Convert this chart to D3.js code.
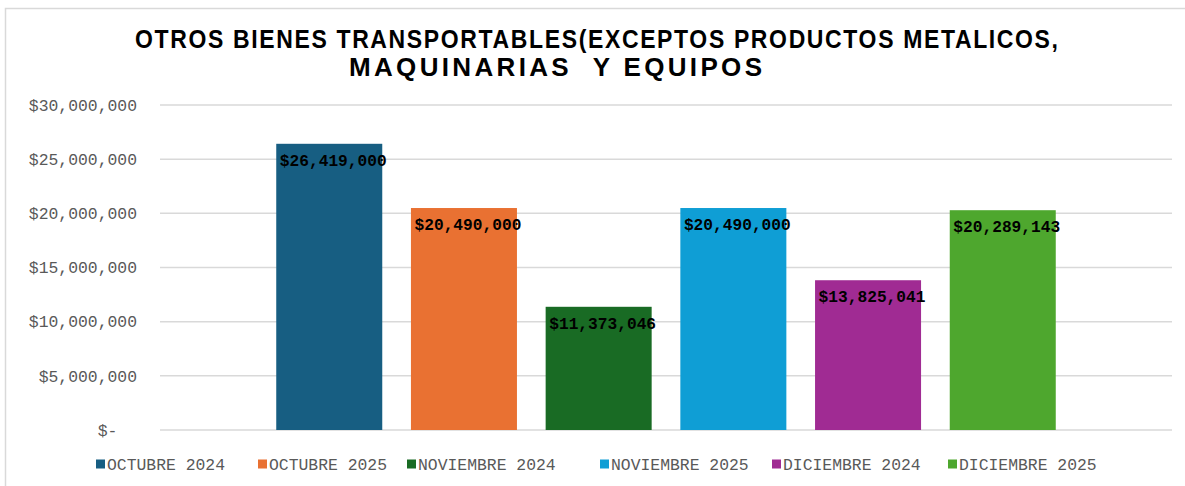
<!DOCTYPE html>
<html>
<head>
<meta charset="utf-8">
<script src="https://cdn.jsdelivr.net/npm/d3@7"></script>
<style>
  body { margin: 0; background: #fff; }
  text { white-space: pre; }
</style>
</head>
<body>
<script>
const titleLines = ['OTROS BIENES TRANSPORTABLES(EXCEPTOS PRODUCTOS METALICOS,', 'MAQUINARIAS  Y EQUIPOS'];
const series = ['OCTUBRE 2024', 'OCTUBRE 2025', 'NOVIEMBRE 2024', 'NOVIEMBRE 2025', 'DICIEMBRE 2024', 'DICIEMBRE 2025'];
const values = [26419000, 20490000, 11373046, 20490000, 13825041, 20289143];
const colors = ['#175E82', '#E97132', '#196B24', '#0F9ED5', '#A02B93', '#4EA72E'];
const yTicks = [0, 5000000, 10000000, 15000000, 20000000, 25000000, 30000000];
// legend x positions (marker left edge)
const legendX = [96, 258, 407, 600, 772, 948];

const W = 1185, H = 486;
const plot = { left: 160, right: 1172, top: 105, bottom: 430 };
const mono = 'Liberation Mono, Courier New, monospace';

const svg = d3.select('body').append('svg')
  .attr('width', W).attr('height', H);

// chart frame (only top/left edges are visible in the crop)
svg.append('rect')
  .attr('x', 5.5).attr('y', 8.5)
  .attr('width', W + 10).attr('height', H + 10)
  .attr('fill', '#fff').attr('stroke', '#d9d9d9').attr('stroke-width', 1.5);

// title, spread to the widths in the picture
const titlePos = [{ x: 135, y: 48, len: 923, sx: 0.92 }, { x: 349, y: 76, len: 413, sx: 1.04 }];
svg.selectAll('.title').data(titleLines).join('text')
  .attr('class', 'title')
  .attr('transform', (d, i) => `translate(${titlePos[i].x},${titlePos[i].y}) scale(${titlePos[i].sx},1)`)
  .attr('textLength', (d, i) => titlePos[i].len / titlePos[i].sx)
  .attr('lengthAdjust', 'spacing')
  .attr('font-family', 'Liberation Sans, Arial, sans-serif')
  .attr('font-weight', 'bold')
  .attr('font-size', 25)
  .attr('fill', '#000')
  .text(d => d);

const y = d3.scaleLinear().domain([0, 30000000]).range([plot.bottom, plot.top]);
const x = d3.scaleBand().domain(series)
  .range([plot.left, plot.right])
  .paddingInner(0.213).paddingOuter(0.863);

// gridlines
svg.append('g').selectAll('line').data(yTicks).join('line')
  .attr('x1', plot.left).attr('x2', plot.right)
  .attr('y1', d => y(d)).attr('y2', d => y(d))
  .attr('stroke', '#d9d9d9').attr('stroke-width', 1.5);

// y axis labels
const fmt = d => d === 0 ? '$-  ' : '$' + d3.format(',')(d);
const yAxis = svg.append('g')
  .attr('transform', `translate(${plot.left},0)`)
  .call(d3.axisLeft(y).tickValues(yTicks).tickFormat(fmt).tickSize(0).tickPadding(23));
yAxis.select('.domain').remove();
yAxis.selectAll('text')
  .attr('font-family', mono)
  .attr('font-size', 16.4)
  .attr('fill', '#595959');

// bars
svg.append('g').selectAll('rect').data(values).join('rect')
  .attr('x', (d, i) => x(series[i]))
  .attr('y', d => y(d))
  .attr('width', x.bandwidth())
  .attr('height', d => y(0) - y(d))
  .attr('fill', (d, i) => colors[i]);

// data labels
svg.append('g').selectAll('text').data(values).join('text')
  .attr('x', (d, i) => x(series[i]) + x.bandwidth() / 2 + 4)
  .attr('y', d => y(d) + 22)
  .attr('text-anchor', 'middle')
  .attr('font-family', mono)
  .attr('font-weight', 'bold')
  .attr('font-size', 16.2)
  .attr('fill', '#000')
  .text(d => '$' + d3.format(',')(d));

// legend
const legend = svg.append('g').selectAll('g').data(series).join('g')
  .attr('transform', (d, i) => `translate(${legendX[i]},464)`);
legend.append('rect')
  .attr('x', 0).attr('y', -4.5).attr('width', 9).attr('height', 9)
  .attr('fill', (d, i) => colors[i]);
legend.append('text')
  .attr('x', 11).attr('y', 0).attr('dy', '0.35em')
  .attr('font-family', mono)
  .attr('font-size', 16.4)
  .attr('fill', '#595959')
  .text(d => d);
</script>
</body>
</html>
